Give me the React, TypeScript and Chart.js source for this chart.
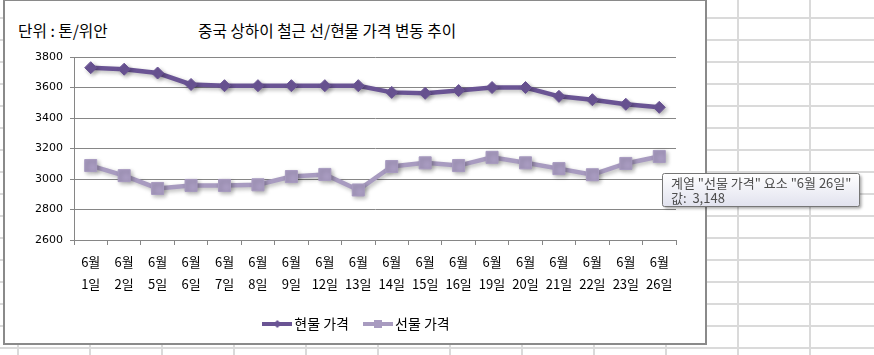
import React, { useEffect, useRef } from 'react';
import { Chart, registerables } from 'chart.js';

Chart.register(...registerables);

const chartTitle = '중국 상하이 철근 선/현물 가격 변동 추이';
const unitLabel = '단위 : 톤/위안';
const months = ['6월', '6월', '6월', '6월', '6월', '6월', '6월', '6월', '6월', '6월', '6월', '6월', '6월', '6월', '6월', '6월', '6월', '6월'];
const days = ['1일', '2일', '5일', '6일', '7일', '8일', '9일', '12일', '13일', '14일', '15일', '16일', '19일', '20일', '21일', '22일', '23일', '26일'];
const spotName = '현물 가격';
const futuresName = '선물 가격';
const spotPrices = [3730, 3720, 3695, 3620, 3612, 3612, 3612, 3612, 3612, 3568, 3562, 3580, 3600, 3600, 3542, 3520, 3490, 3470];
const futuresPrices = [3088, 3022, 2938, 2958, 2958, 2962, 3016, 3030, 2928, 3082, 3106, 3088, 3142, 3106, 3068, 3028, 3102, 3148];
const yMin = 2600;
const yMax = 3800;
const yStep = 200;
const highlightSeries = 1;

const SPOT_COLOR = '#6a5494';
const FUT_COLOR = '#a89bc0';
const AXIS_COLOR = '#868686';
const KR_FONT = '"Noto Sans CJK KR", "Noto Sans", sans-serif';

function legendIcon(color: string, shape: 'diamond' | 'square'): HTMLCanvasElement {
  const c = document.createElement('canvas');
  c.width = 30;
  c.height = 14;
  const g = c.getContext('2d')!;
  g.strokeStyle = color;
  g.lineWidth = 4;
  g.beginPath();
  g.moveTo(0, 7);
  g.lineTo(30, 7);
  g.stroke();
  g.fillStyle = color;
  g.beginPath();
  if (shape === 'diamond') {
    g.moveTo(11, 7);
    g.lineTo(15, 3);
    g.lineTo(19, 7);
    g.lineTo(15, 11);
    g.closePath();
  } else {
    g.rect(11, 3, 8, 8);
  }
  g.fill();
  return c;
}

export default function App() {
  const canvasRef = useRef<HTMLCanvasElement | null>(null);

  useEffect(() => {
    document.body.style.margin = '0';
    const canvas = canvasRef.current;
    if (!canvas) return;
    const labels = months.map((m, i) => [m, days[i]]);
    const icons = [legendIcon(SPOT_COLOR, 'diamond'), legendIcon(FUT_COLOR, 'square')];

    const shadowPlugin = {
      id: 'lineShadow',
      beforeDatasetsDraw(chart: any) {
        const c = chart.ctx;
        c.save();
        c.shadowColor = 'rgba(0,0,0,0.28)';
        c.shadowBlur = 4;
        c.shadowOffsetX = 2;
        c.shadowOffsetY = 2;
      },
      afterDatasetsDraw(chart: any) {
        chart.ctx.restore();
      },
    };

    const legendShift = {
      id: 'legendShift',
      afterLayout(chart: any) {
        const lg = chart.legend;
        if (lg) {
          lg.left += 5.5;
          lg.right += 5.5;
        }
      },
    };

    const tipPlugin = {
      id: 'excelTip',
      afterDraw(chart: any) {
        const values = highlightSeries === 1 ? futuresPrices : spotPrices;
        const idx = values.length - 1;
        const el = chart.getDatasetMeta(highlightSeries).data[idx];
        if (!el) return;
        const ctx = chart.ctx;
        const name = chart.data.datasets[highlightSeries].label;
        const line1 = `계열 "${name}" 요소 "${labels[idx].join(' ')}"`;
        const line2 = `값:  ${values[idx].toLocaleString('en-US')}`;
        ctx.save();
        ctx.font = `13px ${KR_FONT}`;
        const w = Math.round(Math.max(ctx.measureText(line1).width, ctx.measureText(line2).width) + 17);
        const h = 33;
        const x = Math.round(el.x) + 3.5;
        const y = Math.round(el.y) + 17.5;
        ctx.shadowColor = 'rgba(0,0,0,0.35)';
        ctx.shadowBlur = 3;
        ctx.shadowOffsetX = 2;
        ctx.shadowOffsetY = 2;
        const grad = ctx.createLinearGradient(0, y, 0, y + h);
        grad.addColorStop(0, '#ffffff');
        grad.addColorStop(1, '#e1e2ee');
        ctx.fillStyle = grad;
        ctx.beginPath();
        ctx.roundRect(x, y, w, h, 2);
        ctx.fill();
        ctx.shadowColor = 'transparent';
        ctx.strokeStyle = '#767676';
        ctx.lineWidth = 1;
        ctx.stroke();
        ctx.fillStyle = '#4d4d4d';
        ctx.textBaseline = 'middle';
        ctx.textAlign = 'left';
        ctx.fillText(line1, x + 8.5, y + 10);
        ctx.fillText(line2, x + 8.5, y + 24.5);
        ctx.restore();
      },
    };

    const chart = new Chart(canvas, {
      type: 'line',
      data: {
        labels,
        datasets: [
          {
            label: spotName,
            data: spotPrices,
            borderColor: SPOT_COLOR,
            backgroundColor: SPOT_COLOR,
            borderWidth: 4.5,
            pointStyle: 'rectRot',
            pointRadius: 6,
            pointHoverRadius: 6,
            pointBorderWidth: 1,
            pointBackgroundColor: SPOT_COLOR,
            pointBorderColor: SPOT_COLOR,
            tension: 0,
          },
          {
            label: futuresName,
            data: futuresPrices,
            borderColor: FUT_COLOR,
            backgroundColor: FUT_COLOR,
            borderWidth: 4.5,
            pointStyle: 'rect',
            pointRadius: 8.5,
            pointHoverRadius: 8.5,
            pointBorderWidth: 1,
            pointBackgroundColor: FUT_COLOR,
            pointBorderColor: FUT_COLOR,
            tension: 0,
          },
        ],
      },
      options: {
        responsive: false,
        animation: false,
        devicePixelRatio: 1,
        events: [],
        layout: { padding: { left: 30, right: 198, top: 57, bottom: 14 } },
        scales: {
          x: {
            offset: true,
            grid: {
              display: true,
              drawOnChartArea: false,
              offset: true,
              tickLength: 5,
              color: AXIS_COLOR,
            },
            border: { color: AXIS_COLOR },
            ticks: {
              color: '#000',
              font: { family: KR_FONT, size: 13, lineHeight: '22px' },
              padding: 6,
              maxRotation: 0,
              autoSkip: false,
            },
            afterFit: (s: any) => {
              s.height = 58;
            },
          },
          y: {
            min: yMin,
            max: yMax,
            ticks: {
              stepSize: yStep,
              color: '#000',
              font: { family: '"DejaVu Sans", sans-serif', size: 11 },
              padding: 7,
              callback: (v: any) => String(v),
            },
            grid: { color: AXIS_COLOR, tickLength: 4 },
            border: { color: AXIS_COLOR },
            afterFit: (s: any) => {
              s.width = 44;
            },
          },
        },
        plugins: {
          tooltip: { enabled: false },
          legend: {
            position: 'bottom',
            labels: {
              color: '#000',
              font: { family: KR_FONT, size: 14 },
              usePointStyle: true,
              pointStyleWidth: 20,
              padding: 19,
              generateLabels: (c: any) => {
                const items = (Chart.defaults.plugins.legend.labels as any).generateLabels(c);
                items.forEach((it: any, i: number) => {
                  it.pointStyle = icons[i];
                });
                return items;
              },
            },
          },
        },
      } as any,
      plugins: [shadowPlugin, legendShift, tipPlugin],
    });
    return () => chart.destroy();
  }, []);

  const textStyle: React.CSSProperties = {
    position: 'absolute',
    fontFamily: KR_FONT,
    fontSize: 15.7,
    lineHeight: '20px',
    color: '#000',
    whiteSpace: 'nowrap',
    top: 21,
  };

  return (
    <div
      style={{
        position: 'fixed',
        left: 0,
        top: 0,
        width: 874,
        height: 355,
        overflow: 'hidden',
        backgroundColor: '#ffffff',
        backgroundImage:
          'linear-gradient(to right, #dadada 2px, transparent 2px), linear-gradient(to bottom, #dadada 2px, transparent 2px)',
        backgroundSize: '72px 22px',
        backgroundPosition: '17px 17px',
      }}
    >
      <div
        style={{
          position: 'absolute',
          left: 3,
          top: -1,
          width: 704,
          height: 346,
          boxSizing: 'border-box',
          border: '2px solid #8a8a8a',
          background: '#ffffff',
        }}
      />
      <div style={{ ...textStyle, left: 18 }}>{unitLabel}</div>
      <div style={{ ...textStyle, left: 198 }}>{chartTitle}</div>
      <canvas
        ref={canvasRef}
        width={874}
        height={355}
        style={{ position: 'absolute', left: 0, top: 0, width: 874, height: 355 }}
      />
    </div>
  );
}
